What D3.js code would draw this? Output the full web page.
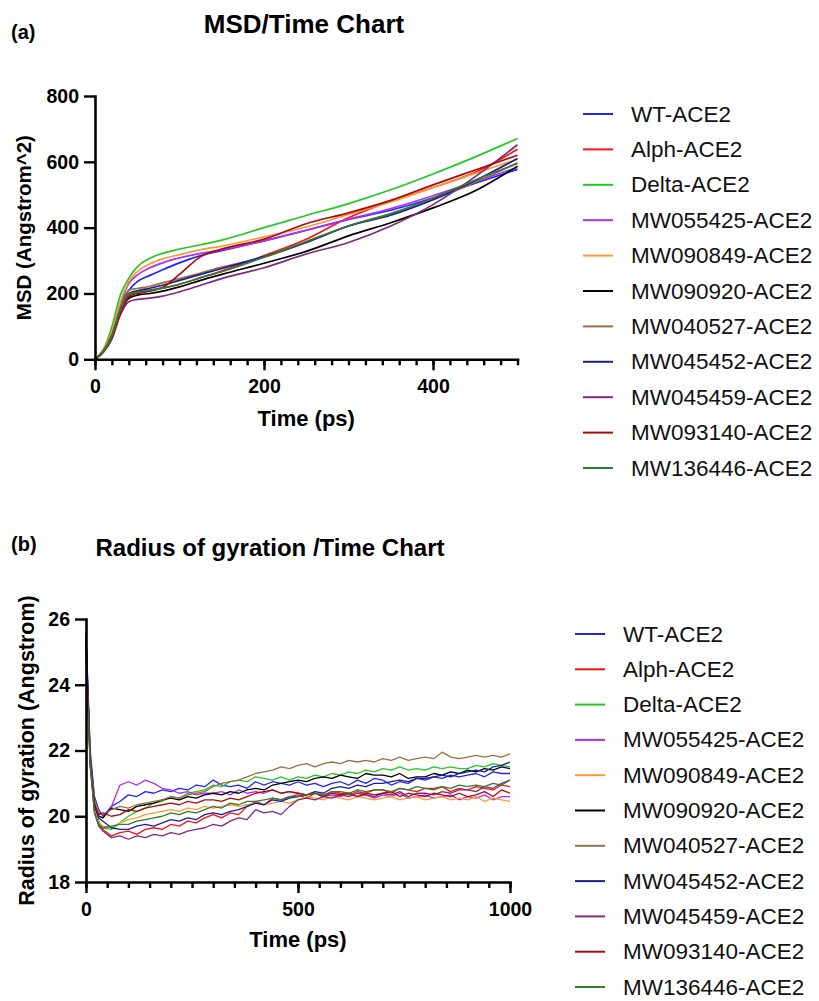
<!DOCTYPE html>
<html>
<head>
<meta charset="utf-8">
<script src="https://cdn.jsdelivr.net/npm/d3@7/dist/d3.min.js"></script>
<style>
  body { margin: 0; background: #fff; }
  svg { display: block; font-family: "Liberation Sans", Arial, sans-serif; }
</style>
</head>
<body>
<svg id="chart" width="819" height="1001"></svg>
<script>
/* global d3 */

const seriesNames = [
  'WT-ACE2', 'Alph-ACE2', 'Delta-ACE2', 'MW055425-ACE2', 'MW090849-ACE2', 'MW090920-ACE2',
  'MW040527-ACE2', 'MW045452-ACE2', 'MW045459-ACE2', 'MW093140-ACE2', 'MW136446-ACE2',
];
const seriesColors = [
  '#2323ff', '#ff1010', '#22c922', '#b030f0', '#ff9933', '#000000',
  '#9c7040', '#1c1c9c', '#7e2a7e', '#a80c0c', '#2e7d32',
];

// (a) MSD, Angstrom^2 vs ps
const msdTime = [0, 10, 20, 30, 40, 50, 65, 80, 100, 125, 150, 200, 250, 300, 350, 400, 450, 500];
const msdWT = [0, 28, 78, 170, 210, 236, 255, 272, 293, 315, 330, 360, 392, 425, 453, 490, 535, 577];
const msdAlph = [0, 24, 70, 150, 195, 205, 210, 216, 228, 248, 268, 315, 365, 430, 480, 522, 568, 638];
const msdDelta = [0, 30, 99, 195, 246, 281, 307, 322, 335, 348, 362, 400, 437, 473, 515, 563, 615, 671];
const msdMW055425 = [0, 27, 82, 170, 230, 256, 278, 293, 308, 322, 332, 360, 392, 425, 458, 497, 540, 583];
const msdMW090849 = [0, 28, 85, 175, 236, 266, 290, 305, 318, 333, 344, 372, 402, 440, 478, 522, 565, 608];
const msdMW090920 = [0, 23, 68, 142, 185, 195, 200, 207, 220, 240, 258, 292, 328, 375, 415, 460, 512, 587];
const msdMW040527 = [0, 25, 75, 155, 210, 215, 222, 232, 245, 262, 280, 310, 355, 405, 443, 485, 538, 597];
const msdMW045452 = [0, 24, 72, 150, 200, 208, 216, 225, 240, 258, 276, 312, 355, 405, 438, 485, 543, 610];
const msdMW045459 = [0, 22, 62, 135, 175, 182, 186, 192, 205, 225, 245, 278, 320, 355, 405, 470, 555, 652];
const msdMW093140 = [0, 22, 65, 140, 190, 200, 207, 218, 258, 312, 335, 365, 412, 445, 483, 530, 575, 620];
const msdMW136446 = [0, 24, 72, 150, 198, 204, 210, 216, 228, 248, 266, 310, 358, 405, 442, 490, 545, 595];

// (b) Radius of gyration, Angstrom vs ps
const rgTime = [
  0, 5, 10, 20, 30,
  40, 60, 80, 100, 120, 140, 160, 180, 200, 220,
  240, 260, 280, 300, 320, 340, 360, 380, 400, 420,
  440, 460, 480, 500, 520, 540, 560, 580, 600, 620,
  640, 660, 680, 700, 720, 740, 760, 780, 800, 820,
  840, 860, 880, 900, 920, 940, 960, 980, 1000,
];
const rgWT = [
  25.6, 23.8, 22.0, 20.6, 20.2,
  20.0, 20.3, 20.45, 20.65, 20.6, 20.75, 20.7, 20.8, 20.75, 20.85,
  20.8, 20.95, 20.9, 21.1, 20.95, 20.9, 20.95, 20.85, 21.05, 20.95,
  21.05, 21.0, 20.95, 21.05, 20.95, 21.0, 20.9, 21.0, 21.05, 20.95,
  21.1, 21.0, 21.15, 21.1, 20.95, 21.05, 21.0, 21.15, 21.1, 21.2,
  21.15, 21.25, 21.2, 21.25, 21.3, 21.2, 21.35, 21.3, 21.3,
];
const rgAlph = [
  25.2, 23.4, 21.6, 20.2, 19.75,
  19.6, 19.4, 19.5, 19.55, 19.45, 19.6, 19.65, 19.6, 19.75, 19.7,
  19.85, 19.8, 19.95, 20.05, 19.95, 20.1, 20.05, 20.3, 20.45, 20.35,
  20.55, 20.5, 20.6, 20.65, 20.55, 20.7, 20.6, 20.75, 20.7, 20.65,
  20.75, 20.7, 20.8, 20.8, 20.7, 20.85, 20.8, 20.75, 20.85, 20.8,
  20.9, 20.75, 20.85, 20.8, 20.9, 20.85, 20.8, 20.95, 20.9,
];
const rgDelta = [
  24.8, 23.3, 21.7, 20.4, 19.85,
  19.65, 19.6, 19.8, 20.0, 20.15, 20.25, 20.4, 20.45, 20.6, 20.55,
  20.7, 20.75, 20.8, 20.95, 20.9, 21.05, 21.1, 21.05, 21.2, 21.15,
  21.1, 21.2, 21.1, 21.2, 21.15, 21.25, 21.2, 21.3, 21.25, 21.35,
  21.3, 21.4, 21.35, 21.45, 21.4, 21.5, 21.4, 21.45, 21.4, 21.5,
  21.45, 21.5, 21.45, 21.45, 21.55, 21.5, 21.6, 21.55, 21.5,
];
const rgMW055425 = [
  25.1, 23.4, 21.7, 20.4, 20.0,
  19.95, 20.3, 20.95, 21.05, 20.95, 21.1, 21.0, 20.85, 20.8, 20.7,
  20.75, 20.65, 20.7, 20.7, 20.75, 20.65, 20.8, 20.7, 20.75, 20.7,
  20.8, 20.7, 20.75, 20.7, 20.65, 20.7, 20.6, 20.65, 20.6, 20.7,
  20.6, 20.65, 20.55, 20.65, 20.6, 20.7, 20.55, 20.6, 20.65, 20.55,
  20.6, 20.65, 20.5, 20.6, 20.55, 20.65, 20.5, 20.6, 20.6,
];
const rgMW090849 = [
  25.0, 23.2, 21.5, 20.2, 19.8,
  19.7, 19.65, 19.8, 19.9, 19.95, 20.05, 20.1, 20.15, 20.2, 20.15,
  20.25, 20.2, 20.3, 20.25, 20.3, 20.35, 20.3, 20.35, 20.4, 20.35,
  20.4, 20.45, 20.4, 20.5, 20.6, 20.55, 20.5, 20.6, 20.55, 20.5,
  20.6, 20.55, 20.5, 20.55, 20.6, 20.5, 20.55, 20.6, 20.5, 20.55,
  20.6, 20.5, 20.55, 20.5, 20.6, 20.45, 20.55, 20.5, 20.45,
];
const rgMW090920 = [
  25.5, 23.6, 21.8, 20.4, 20.0,
  19.95, 20.25, 20.2, 20.15, 20.3, 20.35, 20.4, 20.5, 20.55, 20.5,
  20.6, 20.55, 20.65, 20.7, 20.65, 20.75, 20.7, 20.8, 20.85, 20.8,
  20.95, 21.0, 21.05, 21.1, 21.05, 21.15, 21.2, 21.15, 21.25, 21.2,
  21.15, 21.3, 21.25, 21.25, 21.2, 21.3, 21.15, 21.2, 21.2, 21.3,
  21.25, 21.35, 21.3, 21.4, 21.35, 21.45, 21.4, 21.5, 21.45,
];
const rgMW040527 = [
  25.3, 23.5, 21.8, 20.5, 20.1,
  20.05, 20.2, 20.3, 20.25, 20.35, 20.4, 20.45, 20.5, 20.6, 20.55,
  20.65, 20.7, 20.75, 20.9, 21.0, 21.05, 21.1, 21.2, 21.3, 21.35,
  21.4, 21.5, 21.45, 21.55, 21.6, 21.5, 21.6, 21.65, 21.6, 21.7,
  21.65, 21.7, 21.65, 21.75, 21.7, 21.8, 21.7, 21.75, 21.8, 21.75,
  21.95, 21.8, 21.75, 21.8, 21.85, 21.8, 21.85, 21.8, 21.9,
];
const rgMW045452 = [
  25.4, 23.6, 21.7, 20.3, 19.95,
  19.85, 19.65, 19.6, 19.6, 19.7, 19.75, 19.7, 19.8, 19.9, 19.85,
  19.95, 19.9, 20.05, 20.1, 20.05, 20.15, 20.2, 20.3, 20.4, 20.35,
  20.5, 20.45, 20.55, 20.6, 20.65, 20.75, 20.7, 20.85, 20.9, 20.85,
  20.95, 20.9, 21.0, 21.0, 21.05, 21.1, 21.05, 21.15, 21.15, 21.2,
  21.25, 21.2, 21.3, 21.35, 21.4, 21.35, 21.5, 21.55, 21.65,
];
const rgMW045459 = [
  25.2, 23.3, 21.6, 20.1, 19.7,
  19.55, 19.35, 19.4, 19.3, 19.4, 19.35, 19.45, 19.4, 19.5, 19.45,
  19.55, 19.6, 19.65, 19.75, 19.7, 19.85, 19.95, 19.9, 20.2, 20.1,
  20.15, 20.05, 20.3, 20.5, 20.55, 20.5, 20.6, 20.55, 20.65, 20.6,
  20.7, 20.65, 20.6, 20.7, 20.65, 20.75, 20.6, 20.7, 20.7, 20.65,
  20.75, 20.7, 20.8, 20.8, 20.75, 20.9, 20.85, 21.0, 21.1,
];
const rgMW093140 = [
  25.3, 23.4, 21.6, 20.3, 20.05,
  20.1, 20.0, 20.05, 20.2, 20.15, 20.25, 20.3, 20.35, 20.4, 20.35,
  20.45, 20.4, 20.5, 20.5, 20.45, 20.55, 20.5, 20.6, 20.7, 20.75,
  20.8, 20.7, 20.75, 20.7, 20.65, 20.7, 20.6, 20.7, 20.65, 20.7,
  20.6, 20.7, 20.65, 20.7, 20.75, 20.6, 20.7, 20.65, 20.6, 20.7,
  20.65, 20.6, 20.7, 20.6, 20.65, 20.75, 20.6, 20.8, 20.7,
];
const rgMW136446 = [
  24.9, 23.2, 21.5, 20.1, 19.75,
  19.65, 19.7, 19.75, 19.75, 19.85, 19.9, 19.95, 20.0, 20.1, 20.05,
  20.15, 20.1, 20.2, 20.3, 20.25, 20.4, 20.35, 20.45, 20.45, 20.5,
  20.55, 20.5, 20.6, 20.6, 20.65, 20.7, 20.65, 20.75, 20.75, 20.7,
  20.8, 20.75, 20.8, 20.8, 20.75, 20.85, 20.8, 20.9, 20.85, 20.85,
  20.9, 20.85, 20.95, 20.9, 20.95, 20.9, 21.0, 20.95, 21.1,
];

const msdSeries = [msdWT, msdAlph, msdDelta, msdMW055425, msdMW090849, msdMW090920,
  msdMW040527, msdMW045452, msdMW045459, msdMW093140, msdMW136446];
const rgSeries = [rgWT, rgAlph, rgDelta, rgMW055425, rgMW090849, rgMW090920,
  rgMW040527, rgMW045452, rgMW045459, rgMW093140, rgMW136446];

const FONT = '"Liberation Sans", Arial, sans-serif';
const svg = d3.select('#chart');

function styleAxis(sel) {
  sel.select('.domain').attr('stroke', '#000').attr('stroke-width', 2.6).attr('stroke-linecap', 'square');
  sel.selectAll('.tick line').attr('stroke', '#000').attr('stroke-width', 2.4);
  sel.selectAll('.tick text')
    .attr('fill', '#000')
    .style('font', `bold 19.5px ${FONT}`);
}

function drawPanel(cfg) {
  const g = svg.append('g');
  const x = d3.scaleLinear().domain(cfg.xDomain).range(cfg.xRange);
  const y = d3.scaleLinear().domain(cfg.yDomain).range(cfg.yRange);
  const y0 = cfg.yRange[0];

  // series first, axes drawn over them
  const line = d3.line()
    .x((d) => x(d[0]))
    .y((d) => y(d[1]))
    .curve(cfg.curve);

  cfg.series.forEach((vals, i) => {
    const pts = cfg.time.map((t, k) => [t, vals[k]]).filter((p) => p[1] != null);
    g.append('path')
      .attr('d', line(pts))
      .attr('fill', 'none')
      .attr('stroke', seriesColors[i])
      .attr('stroke-width', cfg.lineWidth)
      .attr('stroke-linejoin', 'round');
  });

  g.append('g')
    .attr('transform', `translate(0,${y0})`)
    .call(d3.axisBottom(x).tickValues(cfg.xMinor).tickSize(6).tickSizeOuter(0).tickFormat(''))
    .call(styleAxis);

  g.append('g')
    .attr('transform', `translate(0,${y0})`)
    .call(d3.axisBottom(x).tickValues(cfg.xMajor).tickSize(11).tickPadding(9).tickSizeOuter(0)
      .tickFormat(d3.format('d')))
    .call(styleAxis)
    .call((s) => s.select('.domain').remove());

  g.append('g')
    .attr('transform', `translate(${cfg.xRange[0]},0)`)
    .call(d3.axisLeft(y).tickValues(cfg.yTicks).tickSize(11).tickPadding(5).tickSizeOuter(0)
      .tickFormat(d3.format('d')))
    .call(styleAxis);

  // axis titles
  g.append('text')
    .attr('x', (cfg.xRange[0] + cfg.xRange[1]) / 2)
    .attr('y', cfg.xTitleY)
    .attr('text-anchor', 'middle')
    .style('font', `bold 22px ${FONT}`)
    .text(cfg.xTitle);

  g.append('text')
    .attr('transform', `translate(${cfg.yTitleX},${(cfg.yRange[0] + cfg.yRange[1]) / 2}) rotate(-90)`)
    .attr('text-anchor', 'middle')
    .style('font', `bold ${cfg.yTitleSize}px ${FONT}`)
    .text(cfg.yTitle);

  // panel tag + title
  g.append('text')
    .attr('x', 11).attr('y', cfg.tagY)
    .style('font', `bold 20px ${FONT}`)
    .text(cfg.tag);

  g.append('text')
    .attr('x', cfg.titleX).attr('y', cfg.titleY)
    .attr('text-anchor', 'middle')
    .style('font', `bold ${cfg.titleSize}px ${FONT}`)
    .text(cfg.title);

  // legend
  const leg = g.append('g')
    .selectAll('g')
    .data(seriesNames)
    .join('g')
    .attr('transform', (d, i) => `translate(0,${cfg.legY + i * cfg.legStep})`);

  leg.append('line')
    .attr('x1', cfg.legX).attr('x2', cfg.legX + 30)
    .attr('stroke', (d, i) => seriesColors[i])
    .attr('stroke-width', 2);

  leg.append('text')
    .attr('x', cfg.legX + 48)
    .attr('y', 7.5)
    .attr('fill', '#111')
    .style('font', `22.5px ${FONT}`)
    .text((d) => d);
}

drawPanel({
  time: msdTime,
  series: msdSeries,
  curve: d3.curveMonotoneX,
  lineWidth: 1.7,
  xDomain: [0, 500], xRange: [95, 517.5],
  yDomain: [0, 800], yRange: [359.3, 96],
  xMajor: [0, 200, 400],
  xMinor: d3.range(0, 501, 20),
  yTicks: [0, 200, 400, 600, 800],
  xTitle: 'Time (ps)', xTitleY: 426,
  yTitle: 'MSD (Angstrom^2)', yTitleX: 31, yTitleSize: 20.5,
  tag: '(a)', tagY: 39,
  title: 'MSD/Time Chart', titleX: 304, titleY: 33, titleSize: 26,
  legX: 583, legY: 114, legStep: 35.4,
});

drawPanel({
  time: rgTime,
  series: rgSeries,
  curve: d3.curveLinear,
  lineWidth: 1.3,
  xDomain: [0, 1000], xRange: [86, 510],
  yDomain: [18, 26], yRange: [882, 619],
  xMajor: [0, 500, 1000],
  xMinor: d3.range(0, 1001, 50),
  yTicks: [18, 20, 22, 24, 26],
  xTitle: 'Time (ps)', xTitleY: 947,
  yTitle: 'Radius of gyration (Angstrom)', yTitleX: 34, yTitleSize: 21.5,
  tag: '(b)', tagY: 551,
  title: 'Radius of gyration /Time Chart', titleX: 270, titleY: 556, titleSize: 24,
  legX: 575, legY: 634, legStep: 35.3,
});
</script>
</body>
</html>
